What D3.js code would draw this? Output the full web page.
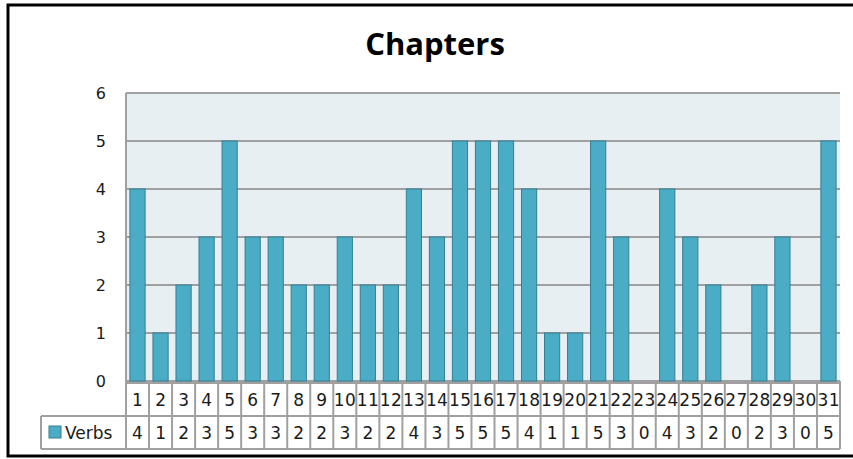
<!doctype html>
<html>
<head>
<script src="https://d3js.org/d3.v7.min.js"></script>
<style>
  body { margin: 0; background: #fff; }
</style>
</head>
<body>
<svg width="853" height="459"></svg>
<script>
var chapters = d3.range(1, 32).map(String);
var verbs = [4,1,2,3,5,3,3,2,2,3,2,2,4,3,5,5,5,4,1,1,5,3,0,4,3,2,0,2,3,0,5];
var yTicks = [0,1,2,3,4,5,6];
var seriesName = "Verbs";

var svg = d3.select("svg");
var pLeft = 126, pRight = 840, pTop = 93, pBottom = 381;
var rowH = 33;

// outer frame
svg.append("rect").attr("x", 8).attr("y", 5).attr("width", 900).attr("height", 451)
   .attr("fill", "none").attr("stroke", "#000").attr("stroke-width", 3);

svg.append("text")
   .attr("x", 435).attr("y", 55)
   .attr("text-anchor", "middle")
   .attr("font-family", "Open Sans")
   .attr("font-weight", "bold")
   .attr("font-size", "31px")
   .text("Chapters");

var x = d3.scaleBand().domain(chapters).range([pLeft, pRight]).paddingInner(0.34).paddingOuter(0.17);
var xc = d3.scaleBand().domain(chapters).range([pLeft, pRight]);
var y = d3.scaleLinear().domain([0, 6]).range([pBottom, pTop]);

svg.append("rect").attr("x", pLeft).attr("y", pTop).attr("width", pRight - pLeft).attr("height", pBottom - pTop)
   .attr("fill", "#e8eff3");

svg.selectAll(".grid").data(yTicks).enter().append("line")
   .attr("x1", pLeft).attr("x2", pRight)
   .attr("y1", function(d) { return y(d); }).attr("y2", function(d) { return y(d); })
   .attr("stroke", "#a0a0a0").attr("stroke-width", 2);

svg.append("line").attr("x1", pLeft).attr("x2", pLeft).attr("y1", pTop).attr("y2", pBottom)
   .attr("stroke", "#a0a0a0").attr("stroke-width", 2);

svg.selectAll(".ylab").data(yTicks).enter().append("text")
   .attr("x", 106).attr("y", function(d) { return y(d) + 6; })
   .attr("text-anchor", "end")
   .attr("font-family", "DejaVu Sans")
   .attr("font-size", "16px")
   .attr("fill", "#1a1a1a")
   .text(function(d) { return d; });

svg.selectAll(".bar").data(verbs).enter().append("rect")
   .attr("x", function(d, i) { return x(chapters[i]); })
   .attr("y", function(d) { return y(d); })
   .attr("width", x.bandwidth())
   .attr("height", function(d) { return pBottom - y(d); })
   .attr("fill", "#4bacc6")
   .attr("stroke", "#357f93")
   .attr("stroke-width", 1);

// data table
var tbl = svg.append("g");
var gridC = "#a0a0a0";
[[pLeft, pRight, pBottom + 2], [41, pRight, pBottom + 2 + rowH], [41, pRight, pBottom + 2 + 2 * rowH]].forEach(function(l) {
  tbl.append("line").attr("x1", l[0]).attr("x2", l[1]).attr("y1", l[2]).attr("y2", l[2])
     .attr("stroke", gridC).attr("stroke-width", 2);
});
tbl.append("line").attr("x1", 41).attr("x2", 41).attr("y1", pBottom + 2 + rowH).attr("y2", pBottom + 2 + 2 * rowH)
   .attr("stroke", gridC).attr("stroke-width", 2);
tbl.selectAll(".vl").data(chapters.concat(["end"])).enter().append("line")
   .attr("x1", function(d, i) { return pLeft + i * xc.bandwidth(); })
   .attr("x2", function(d, i) { return pLeft + i * xc.bandwidth(); })
   .attr("y1", pBottom).attr("y2", pBottom + 2 + 2 * rowH)
   .attr("stroke", gridC).attr("stroke-width", 2);

tbl.selectAll(".cat").data(chapters).enter().append("text")
   .attr("x", function(d) { return xc(d) + xc.bandwidth() / 2; })
   .attr("y", pBottom + 25)
   .attr("text-anchor", "middle")
   .attr("font-family", "DejaVu Sans")
   .attr("font-size", "17px")
   .attr("textLength", function(d) { return d.length > 1 ? 22 : null; })
   .attr("fill", "#1a1a1a")
   .text(function(d) { return d; });

tbl.selectAll(".val").data(verbs).enter().append("text")
   .attr("x", function(d, i) { return xc(chapters[i]) + xc.bandwidth() / 2; })
   .attr("y", pBottom + 25 + rowH)
   .attr("text-anchor", "middle")
   .attr("font-family", "DejaVu Sans")
   .attr("font-size", "17px")
   .attr("fill", "#1a1a1a")
   .text(function(d) { return d; });

tbl.append("rect").attr("x", 49).attr("y", pBottom + 2 + rowH + 10).attr("width", 12).attr("height", 12)
   .attr("fill", "#4bacc6").attr("stroke", "#357f93");
tbl.append("text").attr("x", 65).attr("y", pBottom + 25 + rowH)
   .attr("font-family", "DejaVu Sans").attr("font-size", "17px").attr("fill", "#1a1a1a")
   .text(seriesName);
</script>
</body>
</html>
